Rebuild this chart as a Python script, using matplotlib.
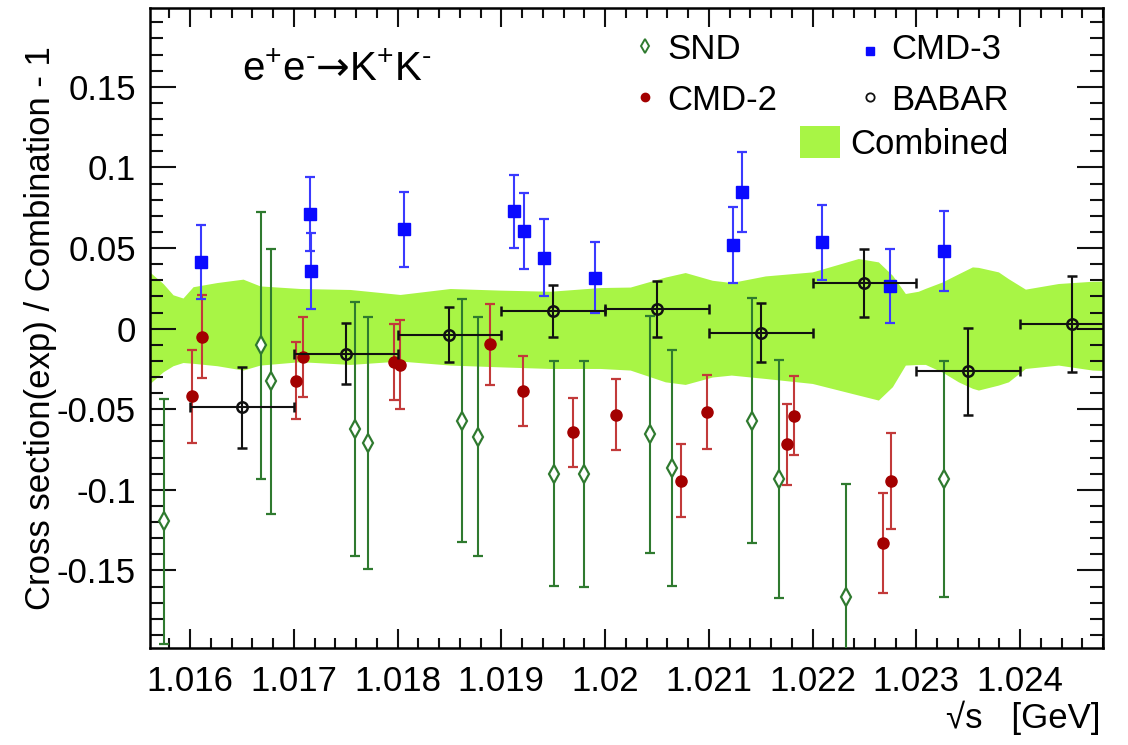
import numpy as np
import matplotlib
matplotlib.use('Agg')
import matplotlib.pyplot as plt
from matplotlib.ticker import MultipleLocator, FixedLocator, FuncFormatter
from matplotlib.patches import Rectangle
from matplotlib.lines import Line2D

plt.rcParams['font.family'] = ['Liberation Sans', 'DejaVu Sans']
plt.rcParams['mathtext.fontset'] = 'custom'
plt.rcParams['mathtext.rm'] = 'Liberation Sans'
plt.rcParams['mathtext.it'] = 'Liberation Sans'
plt.rcParams['mathtext.sf'] = 'DejaVu Sans'
plt.rcParams['axes.unicode_minus'] = False

# --- SND
snd_x = [1.01575, 1.01668, 1.01678, 1.01759, 1.01772, 1.01862, 1.01878, 1.01951,
         1.01980, 1.02043, 1.02065, 1.02142, 1.02168, 1.02232, 1.02327]
snd_y = [-0.1195, -0.0104, -0.0327, -0.0623, -0.0709, -0.0571, -0.0670, -0.0900,
         -0.0901, -0.0656, -0.0864, -0.0571, -0.0932, -0.1666, -0.0932]
snd_err = [0.076, 0.083, 0.082, 0.079, 0.078, 0.0755, 0.074, 0.0697,
           0.070, 0.0737, 0.073, 0.076, 0.074, 0.070, 0.073]

# --- CMD-2
cmd2_x = [1.01602, 1.01612, 1.01702, 1.01709, 1.01797, 1.01802, 1.01889, 1.01921,
          1.01969, 1.02011, 1.02073, 1.02098, 1.02175, 1.02182, 1.02268, 1.02276]
cmd2_y = [-0.0420, -0.0051, -0.0323, -0.0175, -0.0206, -0.0224, -0.0098, -0.0387,
          -0.0643, -0.0534, -0.0943, -0.0519, -0.0718, -0.0540, -0.1327, -0.0945]
cmd2_err = [0.029, 0.0257, 0.024, 0.0247, 0.0237, 0.0277, 0.025, 0.022,
            0.0214, 0.022, 0.0228, 0.023, 0.025, 0.0244, 0.031, 0.0295]

# --- CMD-3
cmd3_x = [1.01611, 1.01716, 1.01717, 1.01806, 1.01912, 1.01922, 1.01941, 1.01990,
          1.02123, 1.02132, 1.02209, 1.02275, 1.02327]
cmd3_y = [0.0414, 0.0711, 0.0356, 0.0616, 0.0728, 0.0604, 0.0441, 0.0317,
          0.0519, 0.0848, 0.0536, 0.0263, 0.0482]
cmd3_err = [0.023, 0.023, 0.0235, 0.0233, 0.0227, 0.0237, 0.0241, 0.022,
            0.0233, 0.0248, 0.0234, 0.023, 0.0247]

# --- BABAR
babar_x = [1.0165, 1.0175, 1.0185, 1.0195, 1.0205, 1.0215, 1.0225, 1.0235, 1.0245]
babar_y = [-0.0488, -0.0156, -0.0038, 0.0108, 0.0121, -0.0024, 0.0284, -0.0263, 0.0028]
babar_yerr = [0.025, 0.019, 0.017, 0.016, 0.0175, 0.0185, 0.021, 0.027, 0.030]
babar_xerr = [0.0005] * 9

# --- combined band
band_x = [1.015614, 1.015740, 1.015836, 1.015932, 1.016029, 1.016260, 1.016511, 1.016675,
          1.017061, 1.017543, 1.018025, 1.018507, 1.018989, 1.019472, 1.019954, 1.020243,
          1.020581, 1.020773, 1.021034, 1.021217, 1.021545, 1.021998, 1.022442, 1.022635,
          1.022770, 1.022895, 1.023020, 1.023088, 1.023252, 1.023406, 1.023541, 1.023599,
          1.023792, 1.023888, 1.024052, 1.024370, 1.024698, 1.024814]
band_hi = [0.035, 0.028, 0.021, 0.019, 0.026, 0.0286, 0.0307, 0.0265,
           0.0249, 0.0243, 0.0212, 0.0249, 0.0239, 0.0232, 0.0255, 0.0258,
           0.032, 0.0348, 0.030, 0.0286, 0.0327, 0.0352, 0.0435, 0.0414,
           0.0331, 0.0218, 0.0232, 0.025, 0.029, 0.034, 0.0383, 0.038,
           0.0352, 0.031, 0.0245, 0.028, 0.0294, 0.0295]
band_lo = [-0.034, -0.0268, -0.023, -0.021, -0.0215, -0.023, -0.0257, -0.0226,
           -0.0205, -0.0222, -0.0201, -0.0226, -0.0237, -0.0247, -0.0247, -0.0257,
           -0.033, -0.0346, -0.030, -0.0288, -0.0309, -0.034, -0.0412, -0.0443,
           -0.036, -0.0226, -0.0222, -0.0222, -0.027, -0.033, -0.037, -0.0381,
           -0.035, -0.033, -0.0247, -0.0226, -0.0257, -0.026]

band_color = '#a8f545'
snd_color = '#2f7a2f'
cmd2_color = '#a30000'
cmd2_ecolor = '#c23a3a'
cmd3_color = '#0a0aff'
cmd3_ecolor = '#3a3aff'

fig = plt.figure(figsize=(11.28, 7.45), dpi=100)
ax = fig.add_axes([150/1128, 1-648/745, 953/1128, 640/745])

ax.fill_between(band_x, band_lo, band_hi, color=band_color, lw=0, zorder=1)

ekw = dict(capsize=3.5, capthick=1.6, elinewidth=1.5, ls='none')
ax.errorbar(snd_x, snd_y, yerr=snd_err, fmt='d', color=snd_color, ms=9, mfc='white',
            mec=snd_color, mew=1.6, zorder=3, **ekw)
ax.errorbar(cmd2_x, cmd2_y, yerr=cmd2_err, fmt='o', color=cmd2_color, ecolor=cmd2_ecolor,
            ms=8, zorder=4, **ekw)
ax.errorbar(cmd3_x, cmd3_y, yerr=cmd3_err, fmt='s', color=cmd3_color, ecolor=cmd3_ecolor,
            ms=8, zorder=4, **ekw)
ax.errorbar(babar_x, babar_y, yerr=babar_yerr, xerr=babar_xerr, fmt='o', color='#111111',
            ms=7.5, mfc='none', mew=1.8, zorder=5, **ekw)

ax.set_xlim(1.015614, 1.0248)
ax.set_ylim(-0.1981, 0.1989)

ax.xaxis.set_major_locator(FixedLocator([1.016, 1.017, 1.018, 1.019, 1.020, 1.021, 1.022, 1.023, 1.024]))
ax.xaxis.set_minor_locator(MultipleLocator(0.0002))
ax.yaxis.set_major_locator(FixedLocator([-0.15, -0.1, -0.05, 0, 0.05, 0.1, 0.15]))
ax.yaxis.set_minor_locator(MultipleLocator(0.01))
ax.xaxis.set_major_formatter(FuncFormatter(lambda v, p: '%g' % round(v, 4)))
ax.yaxis.set_major_formatter(FuncFormatter(lambda v, p: '%g' % round(v, 4)))

ax.tick_params(axis='both', which='both', direction='in', top=True, right=True,
               labelsize=25, width=1.5, color='#111111')
ax.tick_params(axis='x', which='major', length=14, pad=12)
ax.tick_params(axis='x', which='minor', length=7)
ax.tick_params(axis='y', which='major', length=19, pad=10)
ax.tick_params(axis='y', which='minor', length=9.5)
for s in ax.spines.values():
    s.set_linewidth(1.8)

ax.set_ylabel('Cross section(exp) / Combination - 1', fontsize=25, labelpad=0)
fig.text(1100/1128, 1-718/745, '\u221as   [GeV]', fontsize=25, ha='right', va='center')

ax.text(0.097, 0.903, 'e$^{+}$e$^{\\text{-}}$$\\mathsf{\u2192}$K$^{+}$K$^{\\text{-}}$',
        transform=ax.transAxes, fontsize=29, ha='left', va='center')

# legend (manual layout)
def leg_marker(xa, ya, **kw):
    ax.add_line(Line2D([xa], [ya], transform=ax.transAxes, ls='none', clip_on=False, **kw))

leg_marker(0.519, 0.941, marker='d', ms=7, mfc='white', mec=snd_color, mew=1.4)
leg_marker(0.519, 0.861, marker='o', ms=6, color=cmd2_color)
leg_marker(0.755, 0.933, marker='s', ms=6, color=cmd3_color)
leg_marker(0.755, 0.861, marker='o', ms=6, mfc='white', mec='#111111', mew=1.3)
ax.add_patch(Rectangle((0.682, 0.766), 0.042, 0.049, transform=ax.transAxes,
                       color=band_color, lw=0))
ltxt = dict(transform=ax.transAxes, fontsize=25, ha='left', va='center')
ax.text(0.543, 0.935, 'SND', **ltxt)
ax.text(0.543, 0.855, 'CMD-2', **ltxt)
ax.text(0.778, 0.935, 'CMD-3', **ltxt)
ax.text(0.778, 0.855, 'BABAR', **ltxt)
ax.text(0.735, 0.787, 'Combined', **ltxt)

fig.savefig('out.png', dpi=100)
